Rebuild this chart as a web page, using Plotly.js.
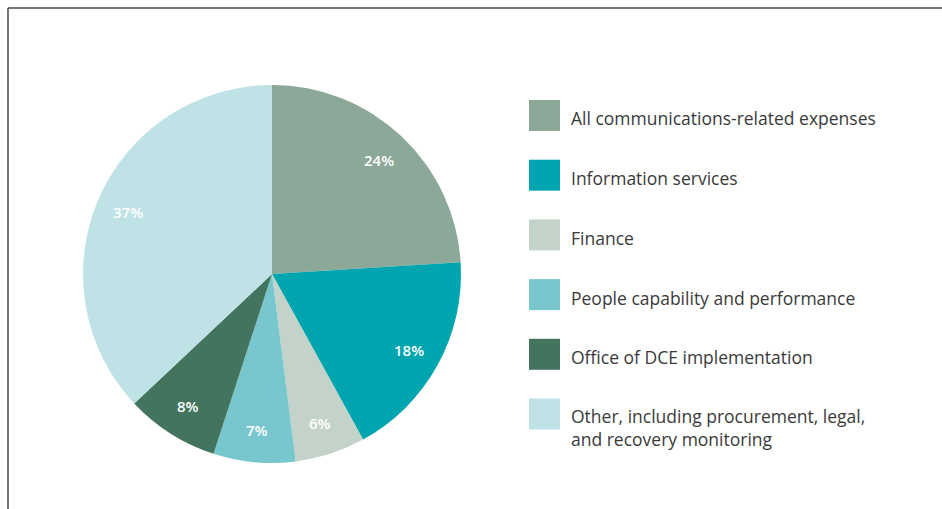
<!DOCTYPE html>
<html>
<head>
<meta charset="utf-8">
<script src="https://cdn.plot.ly/plotly-3.0.1.min.js"></script>
<style>html,body{margin:0;padding:0;background:#fff;}#chart{width:942px;height:509px;}</style>
</head>
<body>
<div id="chart"></div>
<script>
const categories = [
  "All communications-related expenses",
  "Information services",
  "Finance",
  "People capability and performance",
  "Office of DCE implementation",
  "Other, including procurement, legal,<br>and recovery monitoring"
];
const values = [24, 18, 6, 7, 8, 37];
const labels = ["24%", "18%", "6%", "7%", "8%", "37%"];
const colors = ["#8ba898", "#00a5b0", "#c3d3c9", "#78c7ce", "#43745e", "#bfe2e6"];

const W = 942, H = 509;
const cx = 272, cy = 274, R = 189;
const domain = {
  x: [(cx - R) / W, (cx + R) / W],
  y: [1 - (cy + R) / H, 1 - (cy - R) / H]
};

const total = values.reduce((a, b) => a + b, 0);
const annotations = [];
let cum = 0;
values.forEach((v, i) => {
  const mid = (cum + v / 2) / total * 2 * Math.PI;
  cum += v;
  const d = R * 0.83;
  const px = cx + d * Math.sin(mid);
  const py = cy - d * Math.cos(mid);
  annotations.push({
    xref: "paper", yref: "paper", x: px / W, y: 1 - py / H,
    text: labels[i], showarrow: false,
    font: {family: "Open Sans, sans-serif", size: 15, weight: 600, color: "#ffffff"},
    xanchor: "center", yanchor: "middle"
  });
});

const shapes = [
  {type: "line", xref: "paper", yref: "paper", x0: 8 / W, x1: 1, y0: 1 - 8 / H, y1: 1 - 8 / H,
   line: {color: "#4a4a4a", width: 1.5}},
  {type: "line", xref: "paper", yref: "paper", x0: 8 / W, x1: 8 / W, y0: 0, y1: 1 - 8 / H,
   line: {color: "#4a4a4a", width: 1.5}}
];

const legX0 = 529, legSize = 31, legTop = 100, legStep = 59.7, legTextX = 569;
categories.forEach((c, i) => {
  const top = legTop + i * legStep;
  shapes.push({
    type: "rect", xref: "paper", yref: "paper",
    x0: legX0 / W, x1: (legX0 + legSize) / W,
    y0: 1 - (top + legSize) / H, y1: 1 - top / H,
    fillcolor: colors[i], line: {width: 0}
  });
  const multi = c.indexOf("<br>") >= 0;
  annotations.push({
    xref: "paper", yref: "paper", x: legTextX / W,
    y: 1 - (top + legSize / 2 + (multi ? 13 : 3)) / H,
    text: c, showarrow: false, align: "left",
    font: {family: "Open Sans, sans-serif", size: 17.5, color: "#3a3a3a"},
    xanchor: "left", yanchor: "middle"
  });
});

const data = [{
  type: "pie",
  labels: categories,
  values: values,
  sort: false,
  direction: "clockwise",
  rotation: 0,
  textinfo: "none",
  hoverinfo: "label+percent",
  marker: {colors: colors, line: {width: 0}},
  domain: domain,
  showlegend: false
}];

const layout = {
  width: W, height: H,
  margin: {l: 0, r: 0, t: 0, b: 0},
  paper_bgcolor: "#ffffff",
  showlegend: false,
  shapes: shapes,
  annotations: annotations
};

Plotly.newPlot("chart", data, layout, {displayModeBar: false, staticPlot: true});
</script>
</body>
</html>
